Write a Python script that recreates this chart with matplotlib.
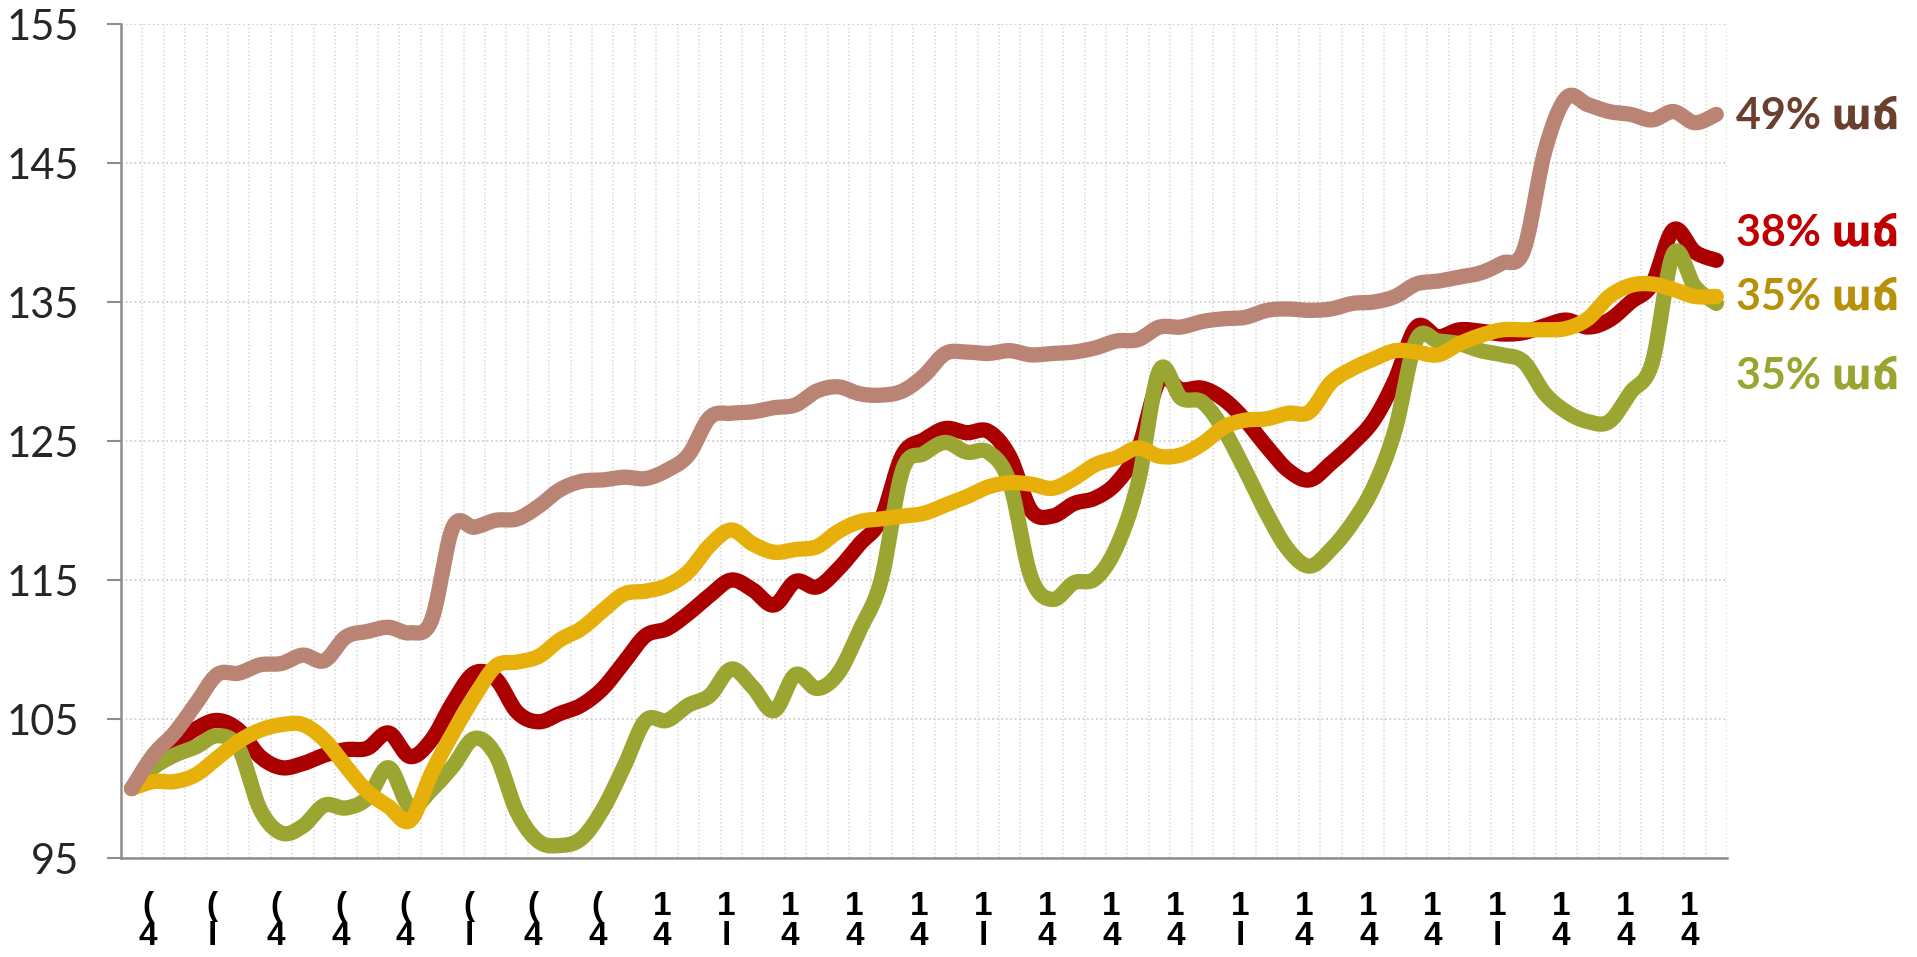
import numpy as np
import matplotlib.pyplot as plt

# monthly index values (75 points)
brown_vals = [100.0, 102.4, 104.0, 106.1, 108.2, 108.3, 108.9, 109.0, 109.6, 109.2,
              110.9, 111.3, 111.6, 111.2, 112.1, 118.8, 118.8, 119.3, 119.4, 120.3,
              121.5, 122.1, 122.2, 122.4, 122.3, 122.9, 124.0, 126.7, 127.0, 127.1,
              127.4, 127.6, 128.6, 128.9, 128.4, 128.3, 128.6, 129.7, 131.3, 131.4,
              131.3, 131.5, 131.2, 131.3, 131.4, 131.7, 132.2, 132.3, 133.2, 133.2,
              133.6, 133.8, 133.9, 134.4, 134.5, 134.4, 134.5, 134.9, 135.0, 135.4,
              136.3, 136.5, 136.8, 137.1, 137.8, 138.7, 145.9, 149.7, 149.2, 148.7,
              148.5, 148.1, 148.7, 147.9, 148.5]
red_vals = [100.0, 101.8, 103.2, 104.3, 104.9, 104.2, 102.3, 101.5, 101.8, 102.4,
            102.8, 102.9, 104.0, 102.3, 103.5, 106.2, 108.3, 107.9, 105.5, 104.8,
            105.4, 106.0, 107.2, 109.1, 111.0, 111.5, 112.6, 113.9, 115.0, 114.3,
            113.2, 114.9, 114.5, 115.8, 117.6, 119.4, 124.0, 125.1, 125.9, 125.6,
            125.7, 123.9, 120.0, 119.6, 120.5, 120.9, 122.0, 124.4, 129.4, 128.7,
            128.8, 128.0, 126.5, 124.6, 122.9, 122.2, 123.4, 124.8, 126.5, 129.4,
            133.2, 132.5, 133.0, 132.9, 132.7, 132.8, 133.3, 133.7, 133.2, 133.7,
            135.0, 136.3, 140.2, 138.6, 138.0]
green_vals = [100.0, 101.5, 102.4, 103.0, 103.8, 102.9, 98.5, 96.8, 97.3, 98.8,
              98.6, 99.3, 101.5, 98.7, 99.9, 101.6, 103.6, 102.4, 98.3, 96.2,
              95.9, 96.4, 98.5, 101.6, 104.9, 104.9, 106.0, 106.7, 108.6, 107.3,
              105.6, 108.2, 107.2, 108.3, 111.4, 115.0, 122.9, 124.1, 124.9, 124.2,
              124.2, 122.0, 115.2, 113.6, 114.8, 115.1, 117.4, 122.0, 130.1, 128.1,
              127.8, 125.8, 122.9, 119.8, 117.2, 116.0, 117.2, 119.1, 121.7, 125.8,
              132.3, 132.2, 132.0, 131.5, 131.2, 130.7, 128.4, 127.1, 126.4, 126.4,
              128.5, 130.6, 138.5, 136.1, 134.9]
yellow_vals = [100.0, 100.5, 100.5, 101.0, 102.2, 103.4, 104.2, 104.6, 104.6, 103.5,
               101.6, 99.8, 98.7, 97.7, 101.1, 104.0, 106.6, 108.8, 109.1, 109.5,
               110.7, 111.5, 112.8, 114.0, 114.2, 114.6, 115.6, 117.5, 118.6, 117.6,
               117.0, 117.2, 117.4, 118.5, 119.2, 119.4, 119.6, 119.8, 120.4, 121.0,
               121.7, 122.0, 121.9, 121.6, 122.3, 123.3, 123.8, 124.5, 123.9, 124.0,
               124.8, 126.0, 126.5, 126.6, 127.0, 127.1, 129.2, 130.2, 130.9, 131.5,
               131.4, 131.2, 132.0, 132.6, 133.0, 133.0, 133.0, 133.1, 133.8, 135.4,
               136.2, 136.3, 135.9, 135.4, 135.4]

end_labels = ["49% աճ", "38% աճ", "35% աճ", "35% աճ"]
label_levels = [148.4, 140.0, 135.4, 129.7]

# quarterly axis labels (only the clipped top of each shows in the original)
tick_tops = ["("] * 8 + ["1"] * 17
tick_bottoms = ["l" if k % 4 == 1 else "4" for k in range(25)]
tick_labels = [t + "\n" + b for t, b in zip(tick_tops, tick_bottoms)]


def smooth(y, n=12):
    # Excel-style smoothed line (cubic Bezier, Catmull-Rom tangents)
    y = np.asarray(y, float)
    x = np.arange(len(y), dtype=float)
    xs, ys = [], []
    for i in range(len(y) - 1):
        i0, i3 = max(i - 1, 0), min(i + 2, len(y) - 1)
        p0 = np.array([x[i], y[i]])
        p3 = np.array([x[i + 1], y[i + 1]])
        c1 = p0 + (np.array([x[i + 1], y[i + 1]]) - np.array([x[i0], y[i0]])) / 6
        c2 = p3 - (np.array([x[i3], y[i3]]) - np.array([x[i], y[i]])) / 6
        t = np.linspace(0, 1, n, endpoint=False)[:, None]
        pts = ((1 - t) ** 3) * p0 + 3 * ((1 - t) ** 2) * t * c1 + 3 * (1 - t) * t ** 2 * c2 + t ** 3 * p3
        xs.extend(pts[:, 0])
        ys.extend(pts[:, 1])
    xs.append(x[-1])
    ys.append(y[-1])
    return np.array(xs), np.array(ys)


fig = plt.figure(figsize=(19.17, 9.57), dpi=100)
ax = fig.add_axes([0.0631, 0.1034, 0.8378, 0.8715])

series = [
    (red_vals, "#AA0000"),
    (green_vals, "#9BA532"),
    (yellow_vals, "#E6AF0A"),
    (brown_vals, "#B98473"),
]
for vals, col in series:
    sx, sy = smooth(vals)
    ax.plot(sx, sy, color=col, linewidth=11, solid_capstyle="round",
            solid_joinstyle="round", zorder=3)

text_colors = ["#6B3F2E", "#C00000", "#B8900A", "#9AA530"]
n = len(brown_vals)
for lab, lev, col in zip(end_labels, label_levels, text_colors):
    ax.text(n - 0.1, lev, lab, color=col, fontsize=31, fontweight="bold",
            family=["Lato", "DejaVu Sans"], ha="left", va="center", clip_on=False)

ax.set_xlim(-0.5, n - 0.5)
ax.set_ylim(95, 155)
ax.set_yticks(np.arange(95, 156, 10))
ax.tick_params(axis="y", labelsize=30, labelcolor="#262626", length=10,
               width=1.5, color="#8C8C8C", pad=20)
for t in ax.get_yticklabels():
    t.set_family(["Lato", "DejaVu Sans"])

ax.set_xticks(np.arange(0, n, 3) + 0.75)
ax.set_xticklabels(tick_labels, fontsize=24, linespacing=0.95, fontweight="bold",
                   family=["Liberation Sans Narrow", "Liberation Sans", "DejaVu Sans"])
ax.tick_params(axis="x", length=0, pad=24)
for t in ax.get_xticklabels():
    t.set_verticalalignment("top")

ax.set_xticks(np.arange(0, n) + 0.5, minor=True)
ax.tick_params(axis="x", which="minor", length=0)
ax.grid(axis="y", which="major", linestyle=(0, (1, 1.5)), color="#CFCFCF", linewidth=1.3)
ax.grid(axis="x", which="minor", linestyle=(0, (1, 1.5)), color="#D8D8D8", linewidth=1.1)
ax.grid(axis="x", which="major", visible=False)

for s in ["top", "right"]:
    ax.spines[s].set_visible(False)
for s in ["left", "bottom"]:
    ax.spines[s].set_color("#8C8C8C")
    ax.spines[s].set_linewidth(1.8)

fig.savefig("out.png", dpi=100)
